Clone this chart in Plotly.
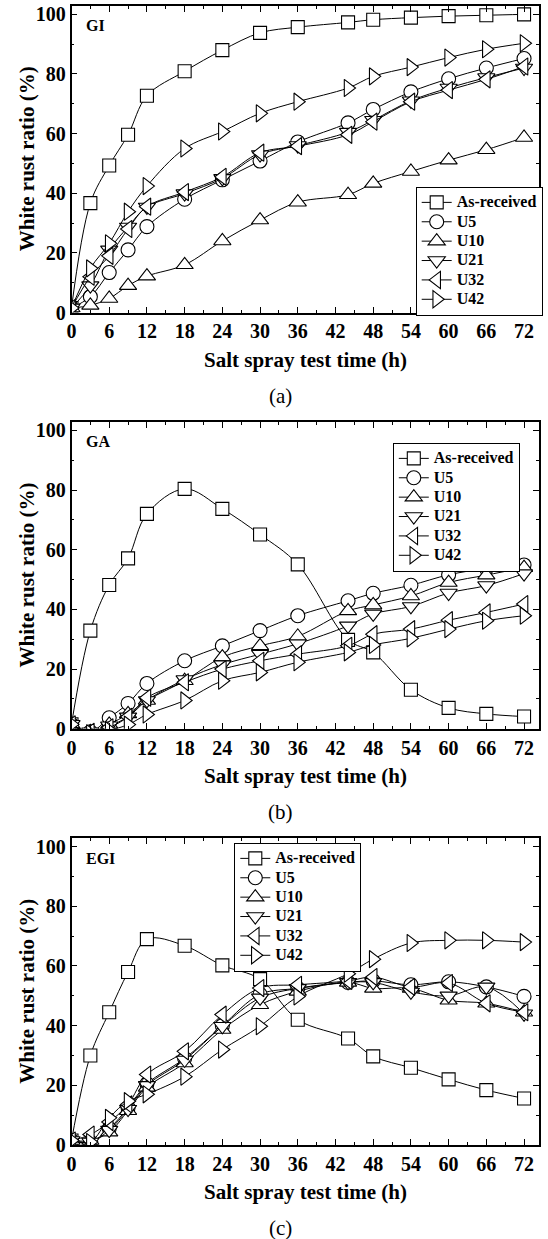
import plotly.graph_objects as go

# ---------------- data ----------------
hours = [0, 3, 6, 9, 12, 18, 24, 30, 36, 44, 48, 54, 60, 66, 72]
series_names = ["As-received", "U5", "U10", "U21", "U32", "U42"]
panel_names = ["GI", "GA", "EGI"]
panel_letters = ["(a)", "(b)", "(c)"]

x_ticks = [0, 6, 12, 18, 24, 30, 36, 42, 48, 54, 60, 66, 72]
y_ticks = [0, 20, 40, 60, 80, 100]

# GI
gi_as_received = [1.5, 36.7, 49.3, 59.6, 72.7, 80.9, 88.0, 93.8, 95.7, 97.3, 98.2, 98.9, 99.4, 99.7, 100.0]
gi_u5 = [1.5, 5.3, 13.4, 21.0, 28.8, 38.0, 44.5, 50.8, 57.2, 63.6, 68.1, 74.0, 78.4, 82.0, 85.2]
gi_u10 = [1.5, 2.4, 4.7, 9.0, 12.2, 16.0, 24.0, 31.0, 37.0, 39.5, 43.3, 47.3, 51.1, 54.6, 58.7]
gi_u21 = [1.5, 9.0, 21.0, 28.7, 35.4, 39.9, 45.0, 53.0, 56.0, 60.5, 64.5, 71.0, 75.3, 78.8, 82.0]
gi_u32 = [1.5, 12.0, 19.0, 28.0, 35.5, 40.4, 45.5, 53.6, 55.8, 59.6, 64.0, 70.7, 74.6, 78.2, 82.5]
gi_u42 = [1.5, 14.8, 23.2, 33.8, 42.4, 55.0, 60.7, 66.8, 70.7, 75.3, 79.2, 82.3, 85.5, 88.3, 90.3]

# GA
ga_as_received = [1.5, 32.9, 48.2, 57.1, 72.0, 80.4, 73.7, 65.1, 55.1, 29.8, 25.6, 13.1, 7.0, 5.0, 4.1]
ga_u5 = [1.5, -1.0, 3.7, 8.5, 15.2, 22.8, 27.8, 32.9, 37.9, 42.9, 45.4, 48.1, 51.6, 53.7, 54.9]
ga_u10 = [1.5, -1.0, 1.5, 5.0, 9.5, 16.1, 24.0, 27.8, 31.0, 39.5, 41.5, 44.5, 49.0, 51.5, 54.0]
ga_u21 = [1.5, -1.0, 1.0, 4.0, 9.5, 16.5, 21.5, 25.0, 28.5, 34.5, 38.5, 41.0, 45.5, 48.0, 52.0]
ga_u32 = [1.5, -1.0, 0.5, 4.0, 10.4, 15.6, 20.0, 22.8, 25.0, 27.8, 31.7, 33.4, 36.4, 39.0, 41.8]
ga_u42 = [1.5, -1.5, -0.5, 1.4, 4.8, 9.5, 16.1, 18.9, 22.3, 25.6, 28.1, 30.3, 33.4, 36.2, 37.9]

# EGI
egi_as_received = [1.5, 30.0, 44.5, 58.0, 69.0, 66.8, 60.2, 55.6, 42.0, 35.7, 29.7, 25.9, 22.0, 18.4, 15.6]
egi_u5 = [1.5, 1.0, 5.5, 12.5, 20.5, 29.0, 40.0, 50.5, 52.5, 54.5, 55.0, 53.7, 54.7, 53.0, 49.8]
egi_u10 = [1.5, 1.5, 4.3, 11.5, 19.3, 27.5, 38.7, 47.0, 51.5, 54.5, 52.5, 52.5, 48.5, 47.5, 44.5]
egi_u21 = [1.5, 1.0, 5.0, 12.0, 20.0, 28.5, 39.8, 49.3, 52.5, 54.5, 54.5, 51.3, 50.0, 53.0, 44.0]
egi_u32 = [1.5, 3.5, 7.7, 13.6, 23.6, 31.4, 43.7, 52.6, 53.7, 55.0, 56.3, 53.0, 54.3, 47.5, 44.5]
egi_u42 = [1.5, 1.0, 9.1, 14.7, 17.0, 22.9, 32.0, 39.8, 49.8, 57.4, 62.3, 67.7, 68.6, 68.6, 68.0]

panels_data = [
    [gi_as_received, gi_u5, gi_u10, gi_u21, gi_u32, gi_u42],
    [ga_as_received, ga_u5, ga_u10, ga_u21, ga_u32, ga_u42],
    [egi_as_received, egi_u5, egi_u10, egi_u21, egi_u32, egi_u42],
]

# ---------------- styling ----------------
W, H = 548, 1239
SERIF = "Liberation Serif"
symbols = ["square", "circle", "triangle-up", "triangle-down", "triangle-left", "triangle-right"]
sizes = [13, 14, 15, 15, 15, 15]

# panel frames in pixels (top, bottom) and x extents
frame_left, frame_right = 71.5, 538.5
frames = [(6.0, 312.5), (422.0, 728.8), (838.3, 1145.0)]
# legend top-left corners in pixels
legend_pos = [(415.7, 186.7), (392.8, 442.7), (234.3, 842.7)]


def px_x(p):
    return p / W


def px_y(p):
    return 1 - p / H


fig = go.Figure()
legend_keys = ["legend", "legend2", "legend3"]
layout_updates = {}
annotations = []

for i, pdata in enumerate(panels_data):
    xa = "x" if i == 0 else f"x{i + 1}"
    ya = "y" if i == 0 else f"y{i + 1}"
    for j, vals in enumerate(pdata):
        fig.add_trace(go.Scatter(
            x=hours, y=vals,
            name=f'<span style="font-size:16px">{series_names[j]}</span>',
            xaxis=xa, yaxis=ya,
            mode="lines+markers",
            line=dict(color="black", width=1, shape="spline", smoothing=1.0),
            marker=dict(symbol=symbols[j], size=sizes[j], color="white",
                        line=dict(color="black", width=1.1)),
            legend=legend_keys[i],
            showlegend=True,
        ))

    top, bottom = frames[i]
    axis_common = dict(
        showline=True, linecolor="black", linewidth=1.5, mirror="ticks",
        ticks="inside", ticklen=6, tickwidth=1.2, tickcolor="black",
        showgrid=False, zeroline=False,
        tickfont=dict(family=SERIF, size=20, color="black", weight="bold"),
    )
    xkey = "xaxis" if i == 0 else f"xaxis{i + 1}"
    ykey = "yaxis" if i == 0 else f"yaxis{i + 1}"
    layout_updates[xkey] = dict(
        axis_common, domain=[px_x(frame_left), px_x(frame_right)],
        range=[0, 74.3], tickmode="array", tickvals=x_ticks,
        ticktext=[str(v) for v in x_ticks],
        minor=dict(ticks="inside", dtick=3, tick0=0, ticklen=3, tickwidth=1.2, tickcolor="black"),
        anchor=ya,
    )
    layout_updates[ykey] = dict(
        axis_common, domain=[px_y(bottom), px_y(top)],
        range=[0, 102.8], tickmode="array", tickvals=y_ticks,
        ticktext=[str(v) for v in y_ticks],
        minor=dict(ticks="inside", dtick=10, tick0=0, ticklen=3, tickwidth=1.2, tickcolor="black"),
        anchor=xa,
    )

    lx, ly = legend_pos[i]
    layout_updates[legend_keys[i]] = dict(
        x=px_x(lx), y=px_y(ly), xanchor="left", yanchor="top",
        xref="paper", yref="paper",
        bgcolor="white", bordercolor="black", borderwidth=1,
        font=dict(family=SERIF, size=12.6, color="black", weight="bold"),
        itemwidth=30, tracegroupgap=0,
    )

    # panel name
    annotations.append(dict(
        text=panel_names[i], x=px_x(84), y=px_y(top + 20), xref="paper", yref="paper",
        xanchor="left", yanchor="middle", showarrow=False,
        font=dict(family=SERIF, size=16, color="black", weight="bold"),
    ))
    # y title
    annotations.append(dict(
        text="White rust ratio (%)", x=px_x(27), y=px_y((top + bottom) / 2),
        xref="paper", yref="paper", xanchor="center", yanchor="middle",
        textangle=-90, showarrow=False,
        font=dict(family=SERIF, size=21, color="black", weight="bold"),
    ))
    # x title
    annotations.append(dict(
        text="Salt spray test time (h)", x=px_x((frame_left + frame_right) / 2),
        y=px_y(bottom + 47), xref="paper", yref="paper",
        xanchor="center", yanchor="middle", showarrow=False,
        font=dict(family=SERIF, size=21, color="black", weight="bold"),
    ))
    # panel letter
    annotations.append(dict(
        text=panel_letters[i], x=px_x(280), y=px_y(bottom + 83),
        xref="paper", yref="paper", xanchor="center", yanchor="middle",
        showarrow=False,
        font=dict(family=SERIF, size=21, color="black"),
    ))

fig.update_layout(
    width=W, height=H,
    margin=dict(l=0, r=0, t=0, b=0, autoexpand=False),
    paper_bgcolor="white", plot_bgcolor="white",
    annotations=annotations,
    **layout_updates,
)

fig.write_html("out.html")
